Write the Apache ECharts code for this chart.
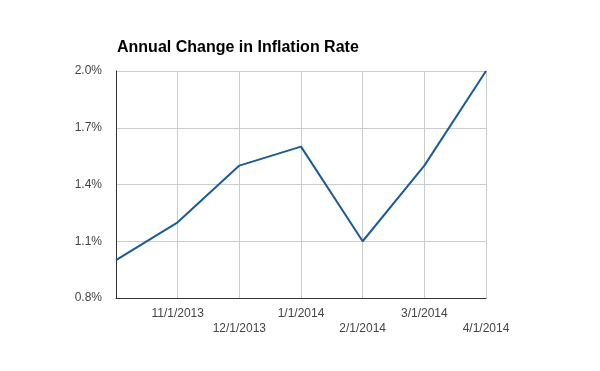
<!DOCTYPE html>
<html><head><meta charset="utf-8">
<script src="https://cdn.jsdelivr.net/npm/echarts@6/dist/echarts.min.js"></script>
<style>html,body{margin:0;padding:0;background:#fff}#c{width:600px;height:371px}</style>
</head><body><div id="c"></div>
<script>
var categories = ['10/1/2013','11/1/2013','12/1/2013','1/1/2014','2/1/2014','3/1/2014','4/1/2014'];
var inflation = [1.0, 1.2, 1.5, 1.6, 1.1, 1.5, 2.0];
var yTicks = [0.8, 1.1, 1.4, 1.7, 2.0];
var chart = echarts.init(document.getElementById('c'), null, {renderer:'canvas'});
chart.setOption({
  animation:false,
  backgroundColor:'#fff',
  title:{text:'Annual Change in Inflation Rate', left:112, top:35,
    textStyle:{fontFamily:'Liberation Sans, Arial', fontSize:16, fontWeight:'bold', color:'#000'}},
  grid:{left:116, right:114, top:71, bottom:73},
  xAxis:{type:'category', data:categories, boundaryGap:false,
    axisLine:{lineStyle:{color:'#333', width:1}},
    axisTick:{show:false},
    splitLine:{show:true, lineStyle:{color:'#ccc'}},
    axisLabel:{interval:0, color:'#444', fontFamily:'Liberation Sans, Arial', fontSize:12, margin:8, lineHeight:15,
      formatter:function(v,i){ if(i===0) return ''; return (i%2===0) ? '\n'+v : v; }}
  },
  yAxis:{type:'value', min:yTicks[0], max:yTicks[yTicks.length-1], interval:0.3,
    axisLine:{show:true, lineStyle:{color:'#333'}},
    axisTick:{show:false},
    splitLine:{lineStyle:{color:'#ccc'}},
    axisLabel:{color:'#444', fontFamily:'Liberation Sans, Arial', fontSize:12, margin:14,
      formatter:function(v){return v.toFixed(1)+'%';}}
  },
  series:[{type:'line', data:inflation, symbol:'none',
    lineStyle:{color:'#1b5b96', width:2}}]
});
</script></body></html>
